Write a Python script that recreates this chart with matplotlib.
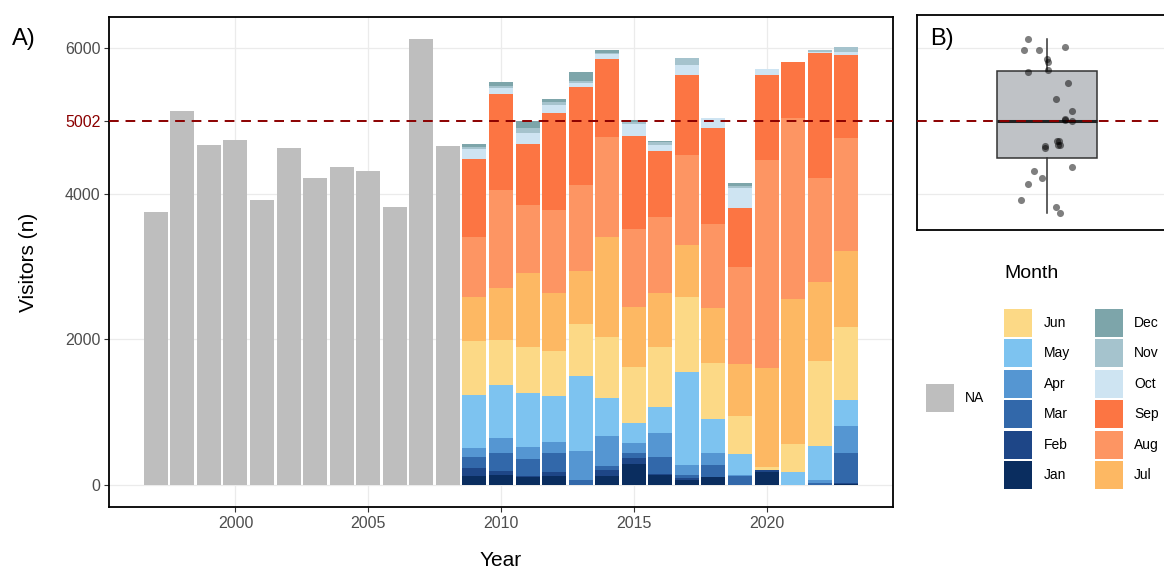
import numpy as np
import matplotlib
matplotlib.use("Agg")
import matplotlib.pyplot as plt
from matplotlib.patches import Rectangle

plt.rcParams['font.family'] = ['Liberation Sans', 'DejaVu Sans']

# ---------------- data ----------------
na_years = list(range(1997, 2009))
na_totals = [3744, 5139, 4668, 4733, 3913, 4627, 4220, 4366, 4311, 3817, 6124, 4659]

month_years = list(range(2009, 2024))
jan = [124, 137, 110, 124, 0, 124, 288, 140, 69, 114, 0, 180, 0, 0, 15]
feb = [105, 60, 14, 59, 0, 82, 78, 11, 23, 0, 0, 30, 0, 0, 8]
mar = [151, 247, 228, 252, 69, 55, 69, 229, 45, 161, 127, 0, 0, 25, 412]
apr = [123, 197, 165, 160, 398, 412, 146, 338, 138, 169, 10, 0, 0, 44, 380]
may = [733, 732, 751, 627, 1030, 517, 275, 348, 1281, 458, 284, 0, 183, 466, 352]
jun = [746, 618, 631, 618, 714, 847, 760, 824, 1021, 778, 526, 40, 375, 1168, 1007]
jul = [595, 718, 1007, 792, 732, 1364, 833, 751, 718, 746, 714, 1352, 1991, 1089, 1043]
aug = [833, 1341, 938, 1144, 1176, 1373, 1061, 1043, 1236, 1158, 1337, 2861, 2485, 1419, 1543]
sep = [1061, 1314, 833, 1327, 1346, 1070, 1282, 902, 1098, 1322, 810, 1166, 778, 1716, 1144]
oct_ = [139, 82, 151, 114, 50, 73, 161, 82, 137, 128, 265, 78, 0, 15, 37]
nov = [30, 32, 69, 41, 32, 10, 27, 40, 92, 0, 32, 0, 0, 31, 78]
dec = [37, 51, 105, 46, 128, 46, 30, 15, 0, 0, 37, 0, 0, 0, 0]

month_names = ['Jan', 'Feb', 'Mar', 'Apr', 'May', 'Jun',
               'Jul', 'Aug', 'Sep', 'Oct', 'Nov', 'Dec']
month_values = [jan, feb, mar, apr, may, jun, jul, aug, sep, oct_, nov, dec]
month_colors = ['#0A2D5F', '#1E4687', '#3268AA', '#5596D2', '#7DC3F0', '#FCD986',
                '#FDB863', '#FD9563', '#FC7543', '#CEE4F2', '#A5C3CD', '#7DA5AA']
na_color = '#BEBEBE'

median_value = 5002
tick_years = [2000, 2005, 2010, 2015, 2020]
grid_values = [0, 2000, 4000, 6000]

# jitter of points in panel B, one per year 1997..2023
jitter_px = [13.3, 25.7, 11.7, 12.7, -25.3, -2, -4.3, 25.7, -12.3, 9, -18.3, -2,
             13.3, 21.7, 25.7, 9.3, -18.3, -22.3, 18.7, 10, 0, 18.3, -19, 1.7, 1.7, -7.3, 18.3]

# ---------------- figure ----------------
W, H = 1164, 572
fig = plt.figure(figsize=(W / 100, H / 100), dpi=100)


def px_axes(l, t, r, b):
    return fig.add_axes([l / W, 1 - b / H, (r - l) / W, (b - t) / H])


grid_c = '#EBEBEB'
line_c = '#8B0000'
tick_c = '#4D4D4D'

# ---- Panel A ----
axA = px_axes(109.3, 16.7, 892.7, 507.3)
for g in grid_values:
    axA.axhline(g, color=grid_c, lw=0.9, zorder=0)
for x in tick_years:
    axA.axvline(x, color=grid_c, lw=0.9, zorder=0)

axA.bar(na_years, na_totals, width=0.9, color=na_color, zorder=2)
bottom = np.zeros(len(month_years))
for vals, col in zip(month_values, month_colors):
    v = np.array(vals, dtype=float)
    axA.bar(month_years, v, bottom=bottom, width=0.9, color=col, zorder=2)
    bottom += v

axA.axhline(median_value, color=line_c, lw=1.4, ls=(0, (5, 3.5)), zorder=4)
axA.set_xlim(1995.25, 2024.75)
axA.set_ylim(-306, 6430)
axA.set_xticks(tick_years)
yt = [0, 2000, 4000, median_value, 6000]
axA.set_yticks(yt)
axA.set_yticklabels([str(v) for v in yt])
for lab, v in zip(axA.get_yticklabels(), yt):
    lab.set_color(line_c if v == median_value else tick_c)
axA.tick_params(axis='both', length=3.5, width=0.8, color='#333333', labelsize=11.5, pad=3)
axA.tick_params(axis='x', labelcolor=tick_c)
for s in axA.spines.values():
    s.set_linewidth(1.3)
    s.set_color('black')

fig.text(29 / W, 1 - 262 / H, 'Visitors (n)', rotation=90, ha='center', va='center', fontsize=15)
fig.text(501 / W, 1 - 561 / H, 'Year', ha='center', va='center', fontsize=15)
fig.text(12 / W, 1 - 39 / H, 'A)', ha='left', va='center', fontsize=17)

# ---- Panel B ----
axB = px_axes(916.7, 15, 1176.7, 230)
for g in [4000, 6000]:
    axB.axhline(g, color=grid_c, lw=0.9, zorder=0)
totals = list(na_totals) + list(bottom)
bp = axB.boxplot([totals], positions=[1], widths=0.46, patch_artist=True,
                 showfliers=False, showcaps=False, whis=1.5, zorder=2)
for b in bp['boxes']:
    b.set_facecolor('#BFC2C6')
    b.set_edgecolor('#333333')
    b.set_linewidth(1.1)
for w in bp['whiskers']:
    w.set_color('#333333')
    w.set_linewidth(1.1)
for m in bp['medians']:
    m.set_color('#222222')
    m.set_linewidth(2.2)
axB.axhline(median_value, color=line_c, lw=1.4, ls=(0, (5, 3.5)), zorder=4)
xj = 1 + np.array(jitter_px) * 1.2 / 260
axB.scatter(xj, totals, s=26, color='black', alpha=0.5, linewidths=0, zorder=5)
axB.set_xlim(0.4, 1.6)
axB.set_ylim(3506, 6457)
axB.set_xticks([])
axB.set_yticks([])
for s in axB.spines.values():
    s.set_linewidth(1.3)
    s.set_color('black')
fig.text(930 / W, 1 - 39 / H, 'B)', ha='left', va='center', fontsize=17)

# ---- Legend ----
axL = fig.add_axes([0, 0, 1, 1], facecolor='none')
axL.set_xlim(0, W)
axL.set_ylim(H, 0)
axL.axis('off')
axL.text(1004, 273, 'Month', ha='left', va='center', fontsize=14)
axL.add_patch(Rectangle((926, 384), 28, 28, color=na_color, lw=0))
axL.text(965, 398, 'NA', ha='left', va='center', fontsize=10)
col1 = ['Jun', 'May', 'Apr', 'Mar', 'Feb', 'Jan']
col2 = ['Dec', 'Nov', 'Oct', 'Sep', 'Aug', 'Jul']
for cx, lx, names in [(1004, 1044, col1), (1095, 1134, col2)]:
    for i, nm in enumerate(names):
        y0 = 309 + i * 30.4
        axL.add_patch(Rectangle((cx, y0), 28, 28,
                                color=month_colors[month_names.index(nm)], lw=0))
        axL.text(lx, y0 + 14, nm, ha='left', va='center', fontsize=10)

fig.savefig('out.png', dpi=100)
